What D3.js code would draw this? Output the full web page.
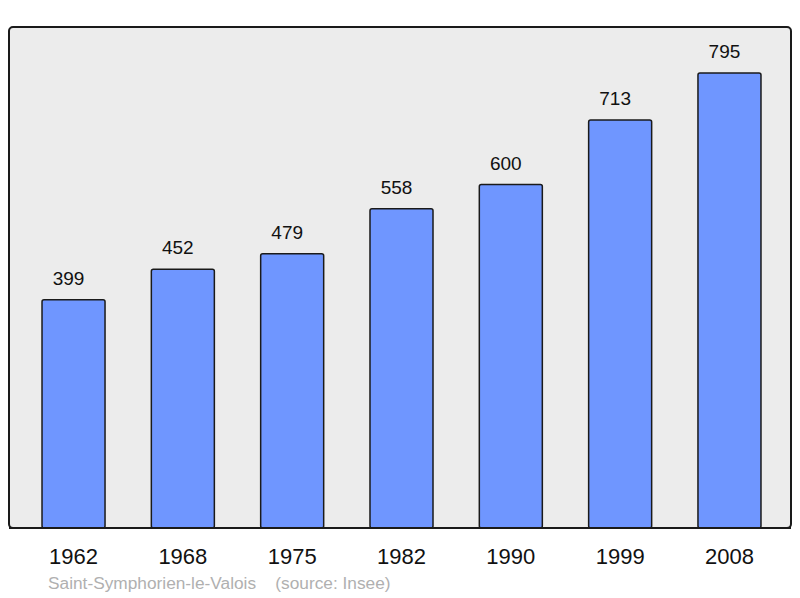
<!DOCTYPE html>
<html>
<head>
<meta charset="utf-8">
<script src="https://cdn.jsdelivr.net/npm/d3@7/dist/d3.min.js"></script>
<style>
  body { margin: 0; background: #fff; }
  svg { display: block; font-family: "Liberation Sans", Arial, sans-serif; }
</style>
</head>
<body>
<svg id="chart" width="800" height="598"></svg>
<script>
var years = ['1962', '1968', '1975', '1982', '1990', '1999', '2008'];
var population = [399, 452, 479, 558, 600, 713, 795];
var caption = 'Saint-Symphorien-le-Valois    (source: Insee)';

var svg = d3.select('#chart');

var panel = { left: 9, top: 27, right: 791, bottom: 528 };

// background frame
svg.append('rect')
    .attr('x', panel.left)
    .attr('y', panel.top)
    .attr('width', panel.right - panel.left)
    .attr('height', panel.bottom - panel.top)
    .attr('rx', 4)
    .style('fill', '#ececec')
    .style('stroke', '#1a1a1a')
    .style('stroke-width', 2);

var x = d3.scaleBand()
    .domain(years)
    .range([9, 794])
    .paddingInner(0.4236)
    .paddingOuter(0.302);

var y = d3.scaleLinear()
    .domain([0, 795])
    .range([panel.bottom, 73]);

var data = years.map(function(yr, i) {
  return { year: yr, value: population[i] };
});

svg.selectAll('.bar')
    .data(data)
  .enter().append('rect')
    .attr('class', 'bar')
    .attr('x', function(d) { return x(d.year); })
    .attr('y', function(d) { return y(d.value); })
    .attr('width', x.bandwidth())
    .attr('height', function(d) { return panel.bottom - y(d.value); })
    .attr('rx', 2)
    .style('fill', '#6f96ff')
    .style('stroke', '#1a1a1a')
    .style('stroke-width', 1.5);

// redraw bottom edge over bars
svg.append('line')
    .attr('x1', panel.left)
    .attr('x2', panel.right)
    .attr('y1', panel.bottom)
    .attr('y2', panel.bottom)
    .style('stroke', '#1a1a1a')
    .style('stroke-width', 2);

// value labels sit a little left of the bar centre
svg.selectAll('.val')
    .data(data)
  .enter().append('text')
    .attr('class', 'val')
    .attr('x', function(d) { return x(d.year) + x.bandwidth() / 2 - 5; })
    .attr('y', function(d) { return y(d.value) - 15; })
    .attr('text-anchor', 'middle')
    .style('font-size', '19px')
    .style('fill', '#111')
    .text(function(d) { return d.value; });

var xAxis = d3.axisBottom(x).tickSize(0).tickPadding(0);
var gx = svg.append('g')
    .attr('transform', 'translate(0,' + (panel.bottom + 36) + ')')
    .call(xAxis);
gx.select('.domain').remove();
gx.selectAll('text')
    .attr('dy', 0)
    .style('font-size', '22px')
    .style('fill', '#111')
    .style('font-family', '"Liberation Sans", Arial, sans-serif');

svg.append('text')
    .attr('x', 48)
    .attr('y', 589)
    .style('font-size', '17.3px')
    .style('fill', '#b0b0b0')
    .style('white-space', 'pre')
    .attr('xml:space', 'preserve')
    .text(caption);
</script>
</body>
</html>
